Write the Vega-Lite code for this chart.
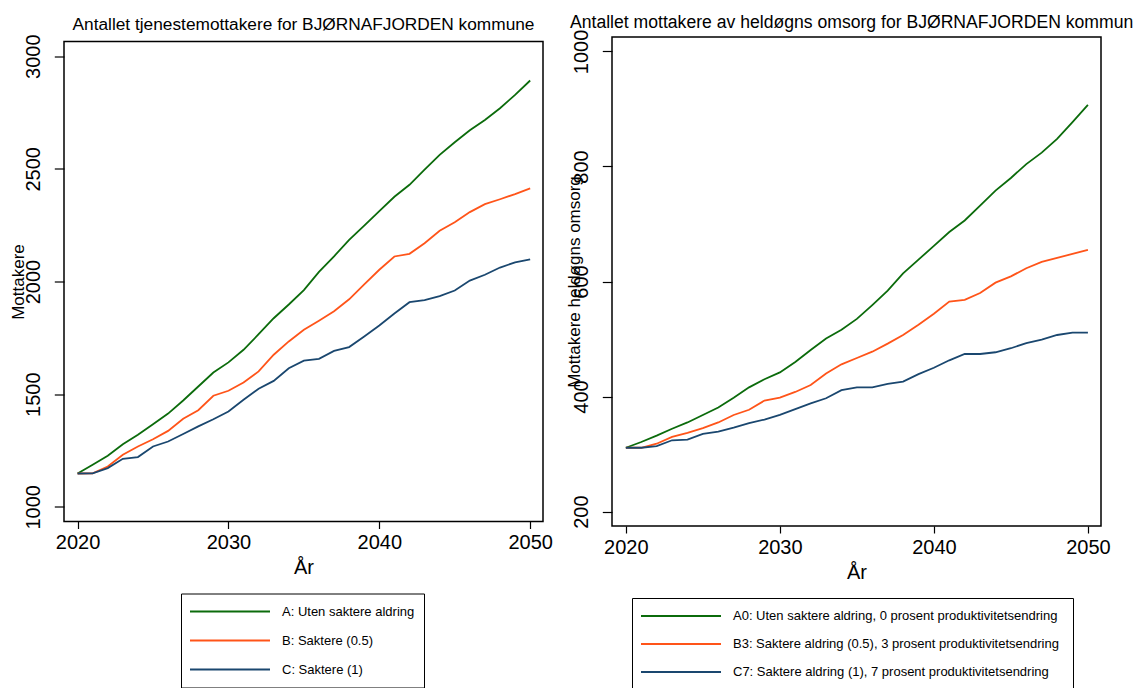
{
  "$schema": "https://vega.github.io/schema/vega-lite/v6.json",
  "padding": {"left": 8, "top": 12, "right": 0, "bottom": 0},
  "background": "white",
  "bounds": "flush",
  "center": true,
  "spacing": 69,
  "config": {
    "font": "Liberation Sans",
    "view": {"stroke": "black", "strokeWidth": 1.5},
    "axis": {"domain": false, "grid": false, "tickColor": "black", "tickWidth": 1.2, "labelColor": "black", "titleColor": "black", "labelFont": "Liberation Sans", "titleFont": "Liberation Sans", "labelFontSize": 20, "titleFontWeight": "normal"},
    "axisX": {"tickSize": 7, "labelPadding": 4, "titleFontSize": 20, "titleY": 52, "titleBaseline": "alphabetic"},
    "axisY": {"tickSize": 9.7, "labelPadding": 15, "labelAngle": 270, "labelAlign": "center", "labelBaseline": "alphabetic", "titleFontSize": 17, "titleAngle": 270, "titleBaseline": "middle", "titleAlign": "center"},
    "title": {"font": "Liberation Sans", "fontSize": 17, "fontWeight": "normal", "color": "black", "anchor": "middle", "baseline": "alphabetic"},
    "legend": {"labelFont": "Liberation Sans", "labelFontSize": 13, "labelColor": "black", "labelLimit": 600, "titleFont": "Liberation Sans", "titleFontSize": 13, "titleOrient": "right"}
  },
  "datasets": {
    "tjeneste": [
      {"year": 2020, "A": 1148, "B": 1148, "C": 1148},
      {"year": 2021, "A": 1187, "B": 1149, "C": 1149},
      {"year": 2022, "A": 1227, "B": 1179, "C": 1172},
      {"year": 2023, "A": 1278, "B": 1231, "C": 1213},
      {"year": 2024, "A": 1320, "B": 1268, "C": 1221},
      {"year": 2025, "A": 1367, "B": 1300, "C": 1268},
      {"year": 2026, "A": 1414, "B": 1337, "C": 1290},
      {"year": 2027, "A": 1472, "B": 1391, "C": 1323},
      {"year": 2028, "A": 1534, "B": 1429, "C": 1357},
      {"year": 2029, "A": 1596, "B": 1493, "C": 1389},
      {"year": 2030, "A": 1641, "B": 1515, "C": 1423},
      {"year": 2031, "A": 1697, "B": 1552, "C": 1475},
      {"year": 2032, "A": 1766, "B": 1601, "C": 1524},
      {"year": 2033, "A": 1837, "B": 1675, "C": 1559},
      {"year": 2034, "A": 1898, "B": 1734, "C": 1615},
      {"year": 2035, "A": 1962, "B": 1786, "C": 1649},
      {"year": 2036, "A": 2043, "B": 1826, "C": 1657},
      {"year": 2037, "A": 2112, "B": 1868, "C": 1692},
      {"year": 2038, "A": 2185, "B": 1921, "C": 1709},
      {"year": 2039, "A": 2248, "B": 1987, "C": 1756},
      {"year": 2040, "A": 2312, "B": 2052, "C": 1805},
      {"year": 2041, "A": 2376, "B": 2111, "C": 1858},
      {"year": 2042, "A": 2429, "B": 2123, "C": 1908},
      {"year": 2043, "A": 2496, "B": 2170, "C": 1917},
      {"year": 2044, "A": 2562, "B": 2225, "C": 1935},
      {"year": 2045, "A": 2618, "B": 2263, "C": 1960},
      {"year": 2046, "A": 2671, "B": 2308, "C": 2004},
      {"year": 2047, "A": 2717, "B": 2343, "C": 2030},
      {"year": 2048, "A": 2769, "B": 2365, "C": 2062},
      {"year": 2049, "A": 2828, "B": 2388, "C": 2085},
      {"year": 2050, "A": 2892, "B": 2413, "C": 2098}
    ],
    "heldogn": [
      {"year": 2020, "A": 311, "B": 311, "C": 311},
      {"year": 2021, "A": 321, "B": 311, "C": 311},
      {"year": 2022, "A": 332, "B": 318, "C": 314},
      {"year": 2023, "A": 344, "B": 330, "C": 324},
      {"year": 2024, "A": 355, "B": 337, "C": 325},
      {"year": 2025, "A": 368, "B": 345, "C": 335},
      {"year": 2026, "A": 381, "B": 355, "C": 339},
      {"year": 2027, "A": 398, "B": 368, "C": 346},
      {"year": 2028, "A": 416, "B": 377, "C": 354},
      {"year": 2029, "A": 430, "B": 393, "C": 360},
      {"year": 2030, "A": 442, "B": 398, "C": 368},
      {"year": 2031, "A": 460, "B": 408, "C": 378},
      {"year": 2032, "A": 481, "B": 420, "C": 388},
      {"year": 2033, "A": 501, "B": 440, "C": 397},
      {"year": 2034, "A": 516, "B": 456, "C": 411},
      {"year": 2035, "A": 535, "B": 467, "C": 416},
      {"year": 2036, "A": 559, "B": 478, "C": 416},
      {"year": 2037, "A": 584, "B": 492, "C": 422},
      {"year": 2038, "A": 614, "B": 507, "C": 426},
      {"year": 2039, "A": 638, "B": 525, "C": 439},
      {"year": 2040, "A": 662, "B": 544, "C": 450},
      {"year": 2041, "A": 686, "B": 565, "C": 463},
      {"year": 2042, "A": 706, "B": 568, "C": 474},
      {"year": 2043, "A": 732, "B": 580, "C": 474},
      {"year": 2044, "A": 758, "B": 598, "C": 477},
      {"year": 2045, "A": 780, "B": 609, "C": 484},
      {"year": 2046, "A": 804, "B": 623, "C": 493},
      {"year": 2047, "A": 824, "B": 634, "C": 499},
      {"year": 2048, "A": 848, "B": 641, "C": 507},
      {"year": 2049, "A": 877, "B": 648, "C": 511},
      {"year": 2050, "A": 907, "B": 655, "C": 511}
    ]
  },
  "resolve": {"scale": {"color": "independent", "x": "independent", "y": "independent"}, "legend": {"color": "independent"}},
  "hconcat": [
    {
      "width": 479,
      "height": 480,
      "title": {"text": "Antallet tjenestemottakere for BJØRNAFJORDEN kommune", "offset": 1, "fontSize": 17.3},
      "data": {"name": "tjeneste"},
      "transform": [{"fold": ["A", "B", "C"], "as": ["serie", "value"]}],
      "mark": {"type": "line", "strokeWidth": 1.8},
      "encoding": {
        "x": {"field": "year", "type": "quantitative", "scale": {"domain": [2019.1, 2050.85], "nice": false, "zero": false}, "axis": {"values": [2020, 2030, 2040, 2050], "format": "d", "title": "År"}},
        "y": {"field": "value", "type": "quantitative", "scale": {"domain": [935, 3065], "nice": false, "zero": false}, "axis": {"values": [1000, 1500, 2000, 2500, 3000], "format": "d", "title": "Mottakere", "titleX": -46}},
        "color": {"field": "serie", "type": "nominal", "scale": {"domain": ["A", "B", "C"], "range": ["#0b6b0b", "#ff5419", "#1a476f"]},
          "legend": {"orient": "none", "legendX": 117, "legendY": 552, "title": "\u00a0", "titlePadding": 2, "direction": "vertical", "symbolType": "stroke", "symbolSize": 6400, "symbolStrokeWidth": 1.8, "strokeColor": "black", "padding": 8, "clipHeight": 20, "rowPadding": 9, "labelOffset": 11,
            "labelExpr": "datum.label == 'A' ? 'A: Uten saktere aldring' : datum.label == 'B' ? 'B: Saktere (0.5)' : 'C: Saktere (1)'"}}
      }
    },
    {
      "width": 489,
      "height": 489,
      "title": {"text": "Antallet mottakere av heldøgns omsorg for BJØRNAFJORDEN kommune", "offset": -2, "fontSize": 17.6},
      "data": {"name": "heldogn"},
      "transform": [{"fold": ["A", "B", "C"], "as": ["serie", "value"]}],
      "mark": {"type": "line", "strokeWidth": 1.8},
      "encoding": {
        "x": {"field": "year", "type": "quantitative", "scale": {"domain": [2019.1, 2050.85], "nice": false, "zero": false}, "axis": {"values": [2020, 2030, 2040, 2050], "format": "d", "title": "År"}},
        "y": {"field": "value", "type": "quantitative", "scale": {"domain": [175, 1025], "nice": false, "zero": false}, "axis": {"values": [200, 400, 600, 800, 1000], "format": "d", "title": "Mottakere heldøgns omsorg", "titleX": -37.7}},
        "color": {"field": "serie", "type": "nominal", "scale": {"domain": ["A", "B", "C"], "range": ["#0b6b0b", "#ff5419", "#1a476f"]},
          "legend": {"orient": "none", "legendX": 20, "legendY": 561, "title": "\u00a0\u00a0", "titlePadding": 6, "direction": "vertical", "symbolType": "stroke", "symbolSize": 6400, "symbolStrokeWidth": 1.8, "strokeColor": "black", "padding": 8, "clipHeight": 20, "rowPadding": 8, "labelOffset": 11,
            "labelExpr": "datum.label == 'A' ? 'A0: Uten saktere aldring, 0 prosent produktivitetsendring' : datum.label == 'B' ? 'B3: Saktere aldring (0.5), 3 prosent produktivitetsendring' : 'C7: Saktere aldring (1), 7 prosent produktivitetsendring'"}}
      }
    }
  ]
}
